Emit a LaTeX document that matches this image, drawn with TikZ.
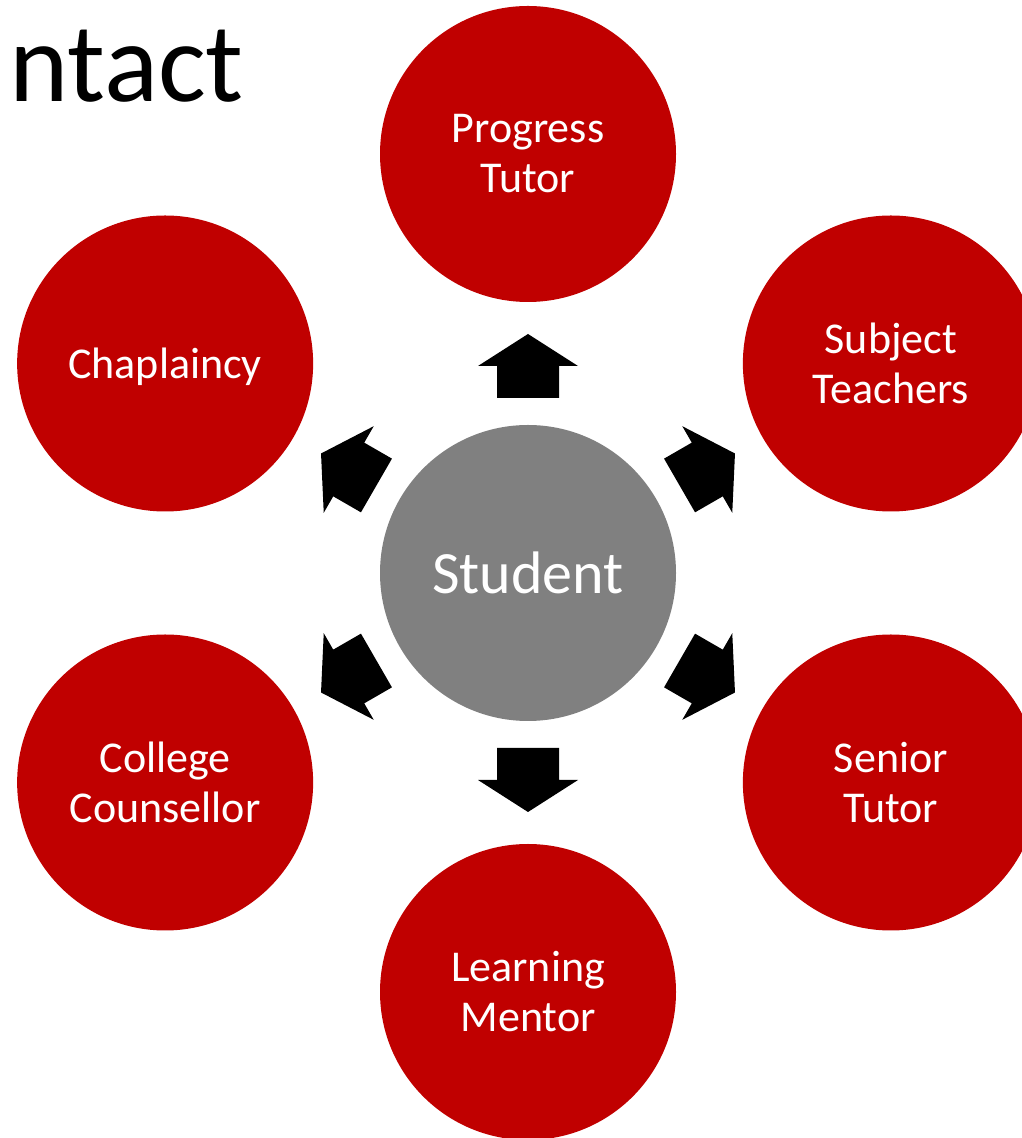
\documentclass[tikz,border=0pt]{standalone}
\usepackage{fontspec}
\setmainfont{Carlito}
\usetikzlibrary{calc}
\definecolor{cred}{RGB}{192,0,0}
\definecolor{cgray}{RGB}{128,128,128}
\begin{document}
\begin{tikzpicture}[x=1pt,y=1pt,
  hub/.style={circle, fill=cgray, minimum size=296pt, inner sep=0pt, text=white,
    font=\fontsize{60}{72}\selectfont},
  sat/.style={circle, fill=cred, minimum size=296pt, inner sep=0pt, text=white,
    align=center, font=\fontsize{44}{50}\selectfont},
  blockarrow/.style={fill=black},
  titletext/.style={anchor=base west, inner sep=0pt, font=\fontsize{113}{120}\selectfont}]
\path[use as bounding box, clip] (0,0) rectangle (1022,1138);
\node[titletext] (title) at (9,1036) {ntact};
\node[hub] (S) at (528,565) {Student};
\node[sat] (PT) at ($(S)+(90:419)$) {Progress\\Tutor};
\node[sat] (ST) at ($(S)+(30:419)$) {Subject\\Teachers};
\node[sat] (SN) at ($(S)+(-30:419)$) {Senior\\Tutor};
\node[sat] (LM) at ($(S)+(-90:419)$) {Learning\\Mentor};
\node[sat] (CC) at ($(S)+(-150:419)$) {College\\Counsellor};
\node[sat] (CH) at ($(S)+(150:419)$) {};
\node[text=white, font=\fontsize{44}{50}\selectfont] (CHt) at ($(CH.center)+(0,-3)$) {Chaplaincy};
\foreach \a in {90,30,-30,-90,-150,150}{
  \begin{scope}[shift={(S.center)}, rotate=\a]
    \fill[blockarrow] (175,-31) -- (207,-31) -- (207,-50) -- (239,0) -- (207,50) -- (207,31) -- (175,31) -- cycle;
  \end{scope}
}
\end{tikzpicture}
\end{document}
